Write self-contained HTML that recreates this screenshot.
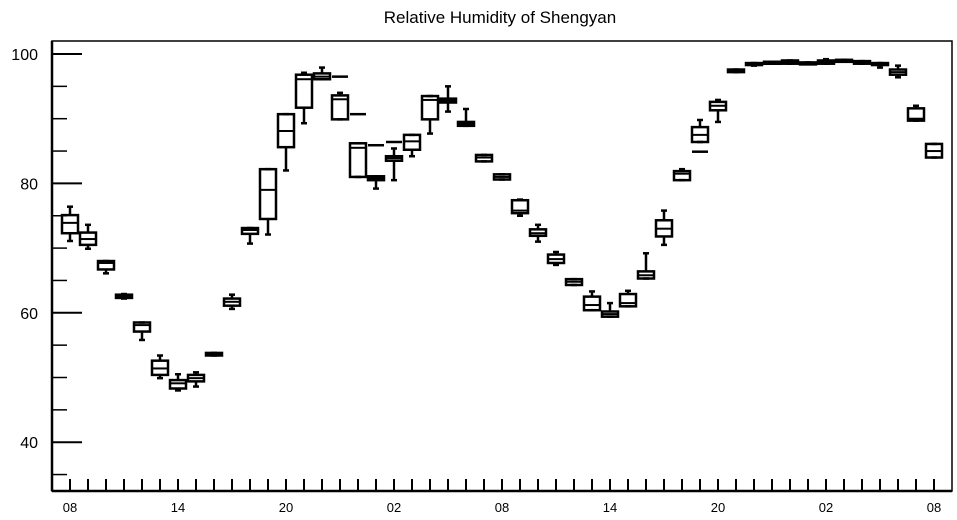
<!DOCTYPE html>
<html><head><meta charset="utf-8"><style>
body{margin:0;background:#fff}
svg{display:block;font-family:"Liberation Sans",sans-serif}
</style></head><body>
<svg id="chart" width="957" height="520" viewBox="0 0 957 520" xmlns="http://www.w3.org/2000/svg">
<text x="500" y="23" text-anchor="middle" font-size="17">Relative Humidity of Shengyan</text>
<g id="plot"></g>
</svg>
<script>
const hourLabels=["08","14","20","02","08","14","20","02","08"];
const yTicks=[40,60,80,100];
const q1s=[72.3,70.5,66.7,62.3,57.1,50.4,48.3,49.4,53.4,61.1,72.2,74.5,85.6,91.7,96.1,89.9,81.0,80.5,83.5,85.2,89.9,92.5,88.9,83.4,80.6,75.4,71.9,67.7,64.3,60.4,59.4,61.0,65.3,71.8,80.5,86.4,91.3,97.2,98.4,98.5,98.5,98.5,98.5,98.8,98.5,98.4,96.8,89.7,84.0];
const meds=[73.9,71.4,67.7,62.6,58.1,51.4,49.1,49.9,53.6,61.7,72.8,79.0,88.1,96.1,96.5,93.0,85.5,80.8,83.9,86.5,92.9,92.8,89.2,84.0,81.0,75.8,72.3,68.3,64.8,61.2,59.8,61.5,65.8,73.0,81.5,87.5,92.0,97.4,98.6,98.7,98.7,98.6,98.7,99.0,98.7,98.5,97.2,90.0,85.0];
const q3s=[75.1,72.4,68.0,62.8,58.5,52.6,49.6,50.4,53.8,62.2,73.1,82.2,90.7,96.8,97.0,93.6,86.2,81.1,84.2,87.5,93.5,93.1,89.5,84.4,81.4,77.4,72.9,69.0,65.2,62.5,60.2,62.9,66.4,74.3,81.9,88.7,92.6,97.6,98.6,98.8,99.0,98.7,99.0,99.1,98.9,98.6,97.6,91.6,86.1];
const mins=[71.1,69.9,66.1,62.2,55.8,49.9,48.0,48.6,53.4,60.6,70.7,72.1,82.0,89.3,96.1,89.9,81.0,79.2,80.5,84.2,87.7,91.1,88.9,83.4,80.6,75.0,71.0,67.4,64.3,60.4,59.4,61.0,65.3,70.5,80.5,86.4,89.5,97.2,98.2,98.5,98.5,98.5,98.5,98.8,98.5,97.9,96.4,89.7,84.0];
const maxs=[76.4,73.6,68.0,62.9,58.5,53.4,50.5,50.8,53.8,62.8,73.1,82.2,90.7,97.1,97.9,94.0,86.2,81.1,85.4,87.5,93.5,95.0,91.5,84.4,81.4,77.5,73.6,69.4,65.2,63.3,61.5,63.4,69.2,75.8,82.2,89.8,92.9,97.6,98.6,98.8,99.0,98.7,99.2,99.1,98.9,98.6,98.2,92.0,86.1];
const dashes=[null,null,null,null,null,null,null,null,null,null,null,null,null,null,null,96.5,90.7,85.9,86.4,null,null,null,null,null,null,null,null,null,null,null,null,null,null,null,null,84.9,null,null,null,null,null,null,null,null,null,null,null,null,null];

const L=52,R=952,T=41,B=491;
const y=v=>54+(100-v)*6.47;
const x=i=>70+18*i;
const NS="http://www.w3.org/2000/svg";
const g=document.getElementById('plot');
function mk(tag,attrs){const e=document.createElementNS(NS,tag);for(const k in attrs)e.setAttribute(k,attrs[k]);g.appendChild(e);return e;}
function ln(x1,y1,x2,y2,w){return mk('line',{x1:x1,y1:y1,x2:x2,y2:y2,stroke:'#000','stroke-width':w||2.5});}

// frame
let fr=mk('rect',{x:L,y:T,width:R-L,height:B-T,fill:'none',stroke:'#000','stroke-width':1.5});


let la=ln(L,T,L,B,2.5);


let ba=ln(L,B,R,B,2.5);



// y ticks
for(let v=35;v<=100;v+=5){
  const major=v%20===0;
  const t=ln(L,y(v),L+(major?30:15),y(v),major?2:1.5);
  
  
}
yTicks.forEach(v=>{
  const t=mk('text',{x:38,y:y(v)+6,'text-anchor':'end','font-size':16});
  t.textContent=v;
  
  
});
// x ticks
for(let i=0;i<q1s.length;i++){
  const t=ln(x(i),B,x(i),B-12,2);
  
  
}
hourLabels.forEach((s,k)=>{
  const t=mk('text',{x:x(k*6),y:512,'text-anchor':'middle','font-size':13});
  t.textContent=s;
  
  
});
// boxes
for(let i=0;i<q1s.length;i++){
  const cx=x(i),hw=8;
  const w1=ln(cx,y(maxs[i]),cx,y(q3s[i]),2.5);
  
  
  const w2=ln(cx,y(q1s[i]),cx,y(mins[i]),2.5);
  
  
  const c1=ln(cx-3,y(maxs[i]),cx+3,y(maxs[i]),2.5);
  
  
  const c2=ln(cx-3,y(mins[i]),cx+3,y(mins[i]),2.5);
  
  
  const h=Math.max(y(q1s[i])-y(q3s[i]),2);
  const b=mk('rect',{x:cx-hw,y:y(q3s[i]),width:2*hw,height:h,fill:'none',stroke:'#000','stroke-width':2.5});
  
  
  const m=ln(cx-hw,y(meds[i]),cx+hw,y(meds[i]),2);
  
  
  if(dashes[i]!==null){
    const d=ln(cx-hw,y(dashes[i]),cx+hw,y(dashes[i]),2.5);
    
    
  }
}
</script>
</body></html>
